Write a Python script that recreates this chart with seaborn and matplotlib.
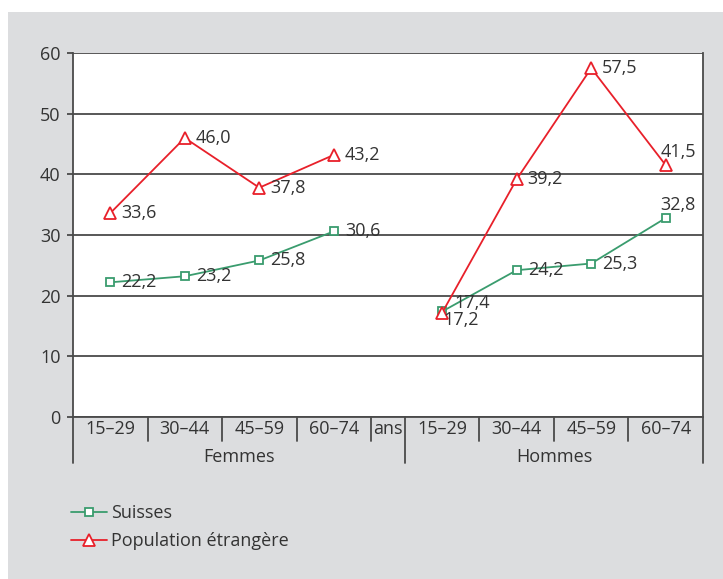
import numpy as np
import pandas as pd
import matplotlib
matplotlib.use("Agg")
import matplotlib.pyplot as plt
from matplotlib.lines import Line2D
from matplotlib.patches import Rectangle
import seaborn as sns

# --- data -------------------------------------------------------------
ages = ["15–29", "30–44", "45–59", "60–74"]
sexes = ["Femmes", "Hommes"]
unit_label = "ans"
series_names = ["Suisses", "Population étrangère"]

suisses_femmes = [22.2, 23.2, 25.8, 30.6]
suisses_hommes = [17.4, 24.2, 25.3, 32.8]
etrangers_femmes = [33.6, 46.0, 37.8, 43.2]
etrangers_hommes = [17.2, 39.2, 57.5, 41.5]

y_ticks = [0, 10, 20, 30, 40, 50, 60]

# --- style ------------------------------------------------------------
sns.set_style("white")
plt.rcParams["font.family"] = ["Open Sans", "DejaVu Sans"]
TXT = "#333333"
GRID = "#4a4a4a"
BG = "#dcdddf"
COLORS = {"Suisses": "#3a9c6e", "Population étrangère": "#e8202a"}
MARKERS = {"Suisses": ("s", 5.5), "Population étrangère": ("^", 8.0)}
FS = 13

# category slots along x: four age groups, the unit slot, four age groups
slot_labels = ages + [unit_label] + ages
slot_widths = [1.0] * 4 + [0.455] + [1.0] * 4
edges = np.concatenate([[0.0], np.cumsum(slot_widths)])
centers = (edges[:-1] + edges[1:]) / 2
xpos = {"Femmes": centers[:4], "Hommes": centers[5:]}

values = {
    ("Suisses", "Femmes"): suisses_femmes,
    ("Suisses", "Hommes"): suisses_hommes,
    ("Population étrangère", "Femmes"): etrangers_femmes,
    ("Population étrangère", "Hommes"): etrangers_hommes,
}
rows = []
for (serie, sexe), vals in values.items():
    for age, x, v in zip(ages, xpos[sexe], vals):
        rows.append({"serie": serie, "sexe": sexe, "age": age, "x": x, "valeur": v})
df = pd.DataFrame(rows)

# --- figure -----------------------------------------------------------
W, H = 723, 579
fig = plt.figure(figsize=(W / 100, H / 100), dpi=100, facecolor="white")
fig.patches.append(Rectangle((8 / W, 0), 1, 1 - 12 / H, transform=fig.transFigure,
                             facecolor=BG, edgecolor="none", zorder=-10))

ax_l, ax_r, ax_t, ax_b = 73, 703, 53, 417
ax = fig.add_axes([ax_l / W, 1 - ax_b / H, (ax_r - ax_l) / W, (ax_b - ax_t) / H])
ax.set_facecolor("white")

for serie in series_names:
    sub = df[df["serie"] == serie]
    mk, ms = MARKERS[serie]
    sns.lineplot(data=sub, x="x", y="valeur", units="sexe", estimator=None,
                 sort=True, color=COLORS[serie], marker=mk, markersize=ms,
                 markerfacecolor="white", markeredgecolor=COLORS[serie],
                 markeredgewidth=1.3, linewidth=1.3, legend=False, ax=ax, zorder=3)

# value labels (pixel offsets from the marker)
offsets = {
    ("Suisses", "Hommes", "15–29"): (12, 8),
    ("Population étrangère", "Hommes", "15–29"): (1, -7),
    ("Suisses", "Hommes", "60–74"): (-5, 13),
    ("Population étrangère", "Hommes", "60–74"): (-5, 13),
}
for _, r in df.iterrows():
    dx, dy = offsets.get((r.serie, r.sexe, r.age), (11, 0))
    ax.annotate(f"{r.valeur:.1f}".replace(".", ","), (r.x, r.valeur),
                xytext=(dx, dy), textcoords="offset pixels", ha="left", va="center",
                fontsize=FS, color=TXT, zorder=4)

ax.set_xlim(edges[0], edges[-1])
ax.set_ylim(y_ticks[0], y_ticks[-1])
ax.set_yticks(y_ticks)
ax.set_yticklabels([str(t) for t in y_ticks], fontsize=FS, color=TXT)
ax.yaxis.grid(True, color=GRID, linewidth=1.3)
ax.set_axisbelow(True)
ax.tick_params(axis="y", which="major", length=4, width=1.3, color=GRID, pad=5, left=True)
ax.set_xticks([])
ax.set_xlabel("")
ax.set_ylabel("")
ax.spines["top"].set_visible(False)
for s in ["left", "right", "bottom"]:
    ax.spines[s].set_color(GRID)
    ax.spines[s].set_linewidth(1.3)

# category separators below the axis
axh = ax_b - ax_t
short = -24 / axh
long = -46 / axh
long_edges = {0, 5, len(edges) - 1}
for i, e in enumerate(edges):
    y0 = long if i in long_edges else short
    ax.add_line(Line2D([e, e], [0, y0], transform=ax.get_xaxis_transform(),
                       color=GRID, linewidth=1.3, clip_on=False))

for c, lab in zip(centers, slot_labels):
    ax.text(c, -12 / axh, lab, transform=ax.get_xaxis_transform(), ha="center",
            va="center", fontsize=FS, color=TXT)

group_centers = [(edges[0] + edges[5]) / 2, (edges[5] + edges[-1]) / 2]
for c, lab in zip(group_centers, sexes):
    ax.text(c, -40 / axh, lab, transform=ax.get_xaxis_transform(), ha="center",
            va="center", fontsize=FS, color=TXT)

# legend
handles = [Line2D([], [], color=COLORS[s], marker=MARKERS[s][0], markersize=MARKERS[s][1],
                  markerfacecolor="white", markeredgecolor=COLORS[s],
                  markeredgewidth=1.3, linewidth=1.3) for s in series_names]
fig.legend(handles, series_names, loc="upper left", bbox_to_anchor=(71 / W, 1 - 504 / H),
           frameon=False, fontsize=FS, handlelength=2.0, handletextpad=0.2,
           labelspacing=0.58, borderpad=0, borderaxespad=0, labelcolor=TXT)

fig.savefig("out.png", dpi=100, facecolor="white")
